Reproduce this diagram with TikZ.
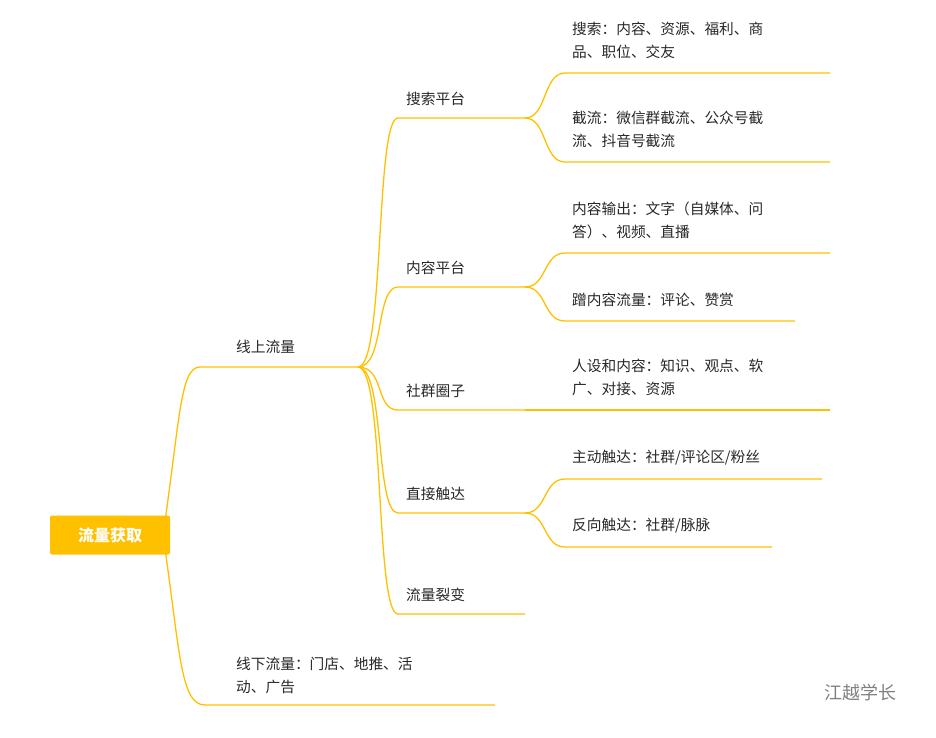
\documentclass[tikz,border=0pt]{standalone}
\usepackage{fontspec}
\setmainfont{Noto Sans CJK SC}
\definecolor{mapYellow}{RGB}{255,192,0}
\definecolor{mapText}{RGB}{40,40,40}
\tikzset{
  branch/.style={draw=mapYellow,line width=1.3pt},
  label/.style={anchor=south west,inner sep=0pt,text=mapText,font=\fontsize{14.7}{23}\selectfont,align=left},
}
\begin{document}
\begin{tikzpicture}[x=1pt,y=-1pt]
		\useasboundingbox (0,0) rectangle (936,737);
		% Root
		\node (root) at (110,535) [fill=mapYellow,rounded corners=2pt,minimum width=120,minimum height=39,text=white,font=\fontsize{16}{16}\selectfont\bfseries] {流量获取};
		
		% First level
		\coordinate (on0) at (200,367);
		\coordinate (on1) at (358,367);
		\coordinate (off0) at (205,705);
		\coordinate (off1) at (495,705);
		\node (online) at (236,354) [label] {线上流量};
		\node (offline) at (236,694) [label] {线下流量：门店、地推、活\\动、广告};
		\draw [branch] (163,535) .. controls (180,420) and (180,367) .. (on0) -- (on1);
		\draw [branch] (163,535) .. controls (180,650) and (180,705) .. (off0) -- (off1);
		
		% Second level
		\foreach \y/\name/\txt in {118/search/搜索平台, 287/content/内容平台, 410/group/社群圈子, 513/touch/直接触达, 614/split/流量裂变}{
			\coordinate (\name0) at (398,\y);
			\coordinate (\name1) at (525,\y);
			\node at (406,\y-12) [label] {\txt};
			\draw [branch] (on1) .. controls +(27,0) and +(-23,0) .. (\name0) -- (\name1);
		}
		
		% Third level
		\foreach \from/\y/\xend/\txt in {
			search/73/830/{搜索：内容、资源、福利、商\\品、职位、交友},
			search/162/830/{截流：微信群截流、公众号截\\流、抖音号截流},
			content/253/830/{内容输出：文字（自媒体、问\\答）、视频、直播},
			content/321/795/{蹭内容流量：评论、赞赏},
			group/410/830/{人设和内容：知识、观点、软\\广、对接、资源},
			touch/479/822/{主动触达：社群/评论区/粉丝},
			touch/547/772/{反向触达：社群/脉脉}}{
			\coordinate (leaf0) at (565,\y);
			\coordinate (leaf1) at (\xend,\y);
			\node at (572,\y-14) [label] {\txt};
			\draw [branch] (\from1) .. controls +(22,0) and +(-22,0) .. (leaf0) -- (leaf1);
		}
		
		% Watermark
		\node (mark) at (860,693) [text=gray,font=\fontsize{18}{18}\selectfont] {江越学长};
	\end{tikzpicture}
\end{document}
